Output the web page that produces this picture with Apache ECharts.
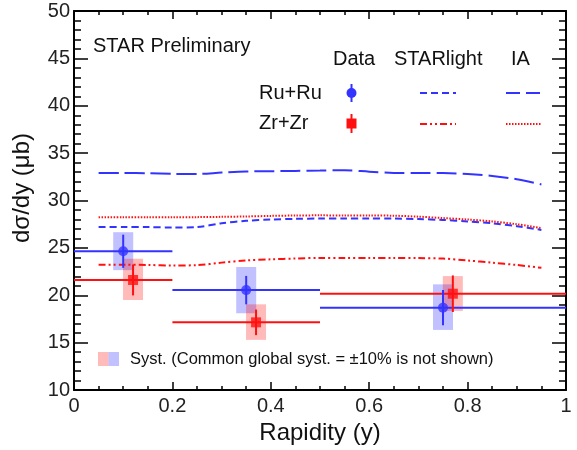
<!DOCTYPE html>
<html>
<head>
<meta charset="utf-8">
<script src="https://cdn.jsdelivr.net/npm/echarts@6/dist/echarts.min.js"></script>
<style>html,body{margin:0;padding:0;background:#fff;}#c{width:577px;height:450px;}</style>
</head>
<body>
<div id="c"></div>
<script>
// ---- Data ----
const binLo = [0.0, 0.2, 0.5];
const binHi = [0.2, 0.5, 1.0];

const ruX = [0.10, 0.35, 0.75];
const ruY = [24.65, 20.55, 18.70];
const ruStat = [1.75, 1.50, 1.86];
const ruSystLow = [22.66, 18.10, 16.35];
const ruSystHigh = [26.66, 23.00, 21.16];

const zrX = [0.12, 0.37, 0.77];
const zrY = [21.62, 17.15, 20.17];
const zrStat = [1.63, 1.35, 1.93];
const zrSystLow = [19.50, 15.30, 18.35];
const zrSystHigh = [23.86, 19.05, 22.03];

const curveX = [0.05,0.10,0.15,0.20,0.25,0.30,0.35,0.40,0.45,0.50,0.55,0.60,0.65,0.70,0.75,0.80,0.85,0.90,0.95];
const iaRu = [32.9,32.9,32.88,32.82,32.8,32.95,33.07,33.1,33.13,33.16,33.2,33.05,32.92,32.9,32.9,32.8,32.6,32.25,31.7];
const slRu = [27.2,27.2,27.2,27.15,27.2,27.6,27.86,28.0,28.07,28.1,28.1,28.1,28.1,28.05,27.95,27.8,27.6,27.3,26.9];
const iaZr = [28.24,28.24,28.24,28.24,28.25,28.28,28.32,28.38,28.42,28.44,28.42,28.42,28.4,28.3,28.15,28.0,27.8,27.5,27.1];
const slZr = [23.23,23.23,23.2,23.15,23.18,23.45,23.68,23.8,23.88,23.95,23.95,23.95,23.95,23.93,23.88,23.68,23.44,23.2,22.9];

const xTicks = {min: 0, max: 1, step: 0.2};
const yTicks = {min: 10, max: 50, step: 5};

// ---- Styles ----
const BLUE = '#3333ff';
const RED = '#ff1010';
const BLUE_FILL = 'rgba(51,51,255,0.30)';
const RED_FILL = 'rgba(255,0,0,0.27)';
const FONT = '"Liberation Sans", Arial, sans-serif';

const zip = (xs, ys) => xs.map((x, i) => [x, ys[i]]);

function hBars(y) { return binLo.map((lo, i) => [lo, binHi[i], y[i]]); }
function vBars(x, lo, hi) { return x.map((v, i) => [v, lo[i], hi[i]]); }

function hRender(color) {
  return function (params, api) {
    const a = api.coord([api.value(0), api.value(2)]);
    const b = api.coord([api.value(1), api.value(2)]);
    return {type: 'line', shape: {x1: a[0], y1: a[1], x2: b[0], y2: b[1]},
      style: {stroke: color, lineWidth: 2}};
  };
}
function vRender(color) {
  return function (params, api) {
    const a = api.coord([api.value(0), api.value(1)]);
    const b = api.coord([api.value(0), api.value(2)]);
    return {type: 'line', shape: {x1: a[0], y1: a[1], x2: b[0], y2: b[1]},
      style: {stroke: color, lineWidth: 2}};
  };
}
function boxRender(fill) {
  return function (params, api) {
    const a = api.coord([api.value(0), api.value(2)]);
    const b = api.coord([api.value(0), api.value(1)]);
    const hw = 10;
    return {type: 'rect', shape: {x: a[0] - hw, y: a[1], width: 2 * hw, height: b[1] - a[1]},
      style: {fill: fill}};
  };
}

const axisBlack = {color: '#000', width: 2};
const tickStyle = {color: '#000', width: 1.5};

function xAxisDef(pos, showLabel) {
  return {
    type: 'value', position: pos, min: xTicks.min, max: xTicks.max, interval: xTicks.step,
    axisLine: {show: true, onZero: false, lineStyle: axisBlack},
    axisTick: {show: true, inside: true, length: 8, lineStyle: tickStyle},
    minorTick: {show: true, splitNumber: 4, length: 4, lineStyle: tickStyle},
    axisLabel: {show: showLabel, fontSize: 20, color: '#222', margin: 6, fontFamily: FONT},
    splitLine: {show: false}, minorSplitLine: {show: false},
    name: showLabel ? 'Rapidity (y)' : '', nameLocation: 'middle', nameGap: 23,
    nameTextStyle: {fontSize: 24, color: '#111', fontFamily: FONT}
  };
}
function yAxisDef(pos, showLabel) {
  return {
    type: 'value', position: pos, min: yTicks.min, max: yTicks.max, interval: yTicks.step,
    axisLine: {show: true, onZero: false, lineStyle: axisBlack},
    axisTick: {show: true, inside: true, length: 14, lineStyle: tickStyle},
    minorTick: {show: true, splitNumber: 5, length: 7, lineStyle: tickStyle},
    axisLabel: {show: showLabel, fontSize: 20, color: '#222', margin: 4, fontFamily: FONT},
    splitLine: {show: false}, minorSplitLine: {show: false}
  };
}

function curve(data, color, dash) {
  return {type: 'line', xAxisIndex: 0, yAxisIndex: 0, data: zip(curveX, data),
    showSymbol: false, smooth: 0.3, z: 2, silent: true,
    lineStyle: {color: color, width: 2, type: dash}};
}

const chart = echarts.init(document.getElementById('c'), null, {renderer: 'canvas'});
const option = {
  animation: false,
  backgroundColor: '#fff',
  textStyle: {fontFamily: FONT},
  grid: {left: 74, right: 11, top: 11, bottom: 59, containLabel: false},
  xAxis: [xAxisDef('bottom', true), xAxisDef('top', false)],
  yAxis: [yAxisDef('left', true), yAxisDef('right', false)],
  series: [
    curve(iaRu, BLUE, [20, 6]),
    curve(slRu, BLUE, [7, 4]),
    curve(iaZr, RED, [1.5, 1.5]),
    curve(slZr, RED, [7, 3, 2, 3, 2, 3]),
    {type: 'custom', renderItem: boxRender(BLUE_FILL), data: vBars(ruX, ruSystLow, ruSystHigh), z: 1, silent: true},
    {type: 'custom', renderItem: boxRender(RED_FILL), data: vBars(zrX, zrSystLow, zrSystHigh), z: 1, silent: true},
    {type: 'custom', renderItem: hRender(BLUE), data: hBars(ruY), z: 3, silent: true},
    {type: 'custom', renderItem: hRender(RED), data: hBars(zrY), z: 3, silent: true},
    {type: 'custom', renderItem: vRender(BLUE),
      data: vBars(ruX, ruY.map((v, i) => v - ruStat[i]), ruY.map((v, i) => v + ruStat[i])), z: 3, silent: true},
    {type: 'custom', renderItem: vRender(RED),
      data: vBars(zrX, zrY.map((v, i) => v - zrStat[i]), zrY.map((v, i) => v + zrStat[i])), z: 3, silent: true},
    {type: 'scatter', data: zip(ruX, ruY), symbol: 'circle', symbolSize: 10, itemStyle: {color: BLUE}, z: 4, silent: true},
    {type: 'scatter', data: zip(zrX, zrY), symbol: 'rect', symbolSize: 10, itemStyle: {color: RED}, z: 4, silent: true}
  ],
  graphic: [
    {type: 'text', x: 22, y: 188, rotation: Math.PI / 2,
      style: {text: 'dσ/dy (μb)', font: '24px ' + FONT, fill: '#111', textAlign: 'center', textVerticalAlign: 'middle'}},
    {type: 'text', x: 93, y: 46, style: {text: 'STAR Preliminary', font: '20px ' + FONT, fill: '#111', textVerticalAlign: 'middle'}},
    {type: 'text', x: 333, y: 59, style: {text: 'Data', font: '20px ' + FONT, fill: '#111', textVerticalAlign: 'middle'}},
    {type: 'text', x: 394, y: 59, style: {text: 'STARlight', font: '20px ' + FONT, fill: '#111', textVerticalAlign: 'middle'}},
    {type: 'text', x: 511, y: 59, style: {text: 'IA', font: '20px ' + FONT, fill: '#111', textVerticalAlign: 'middle'}},
    {type: 'text', x: 259, y: 93, style: {text: 'Ru+Ru', font: '20px ' + FONT, fill: '#111', textVerticalAlign: 'middle'}},
    {type: 'text', x: 259, y: 123, style: {text: 'Zr+Zr', font: '20px ' + FONT, fill: '#111', textVerticalAlign: 'middle'}},
    {type: 'line', shape: {x1: 351.5, y1: 84, x2: 351.5, y2: 102}, style: {stroke: BLUE, lineWidth: 2}},
    {type: 'circle', shape: {cx: 351.5, cy: 93, r: 5}, style: {fill: BLUE}},
    {type: 'line', shape: {x1: 351.5, y1: 114, x2: 351.5, y2: 133}, style: {stroke: RED, lineWidth: 2}},
    {type: 'rect', shape: {x: 346.5, y: 118.5, width: 10, height: 10}, style: {fill: RED}},
    {type: 'line', shape: {x1: 420, y1: 93, x2: 456, y2: 93}, style: {stroke: BLUE, lineWidth: 2, lineDash: [7, 4]}},
    {type: 'line', shape: {x1: 506, y1: 93, x2: 542, y2: 93}, style: {stroke: BLUE, lineWidth: 2, lineDash: [14, 6]}},
    {type: 'line', shape: {x1: 420, y1: 124, x2: 456, y2: 124}, style: {stroke: RED, lineWidth: 2, lineDash: [7, 3, 2, 3, 2, 3]}},
    {type: 'line', shape: {x1: 506, y1: 124, x2: 541, y2: 124}, style: {stroke: RED, lineWidth: 2, lineDash: [1.5, 1.5]}},
    {type: 'rect', shape: {x: 98, y: 352, width: 10.5, height: 14}, style: {fill: RED_FILL}},
    {type: 'rect', shape: {x: 108.5, y: 352, width: 10.5, height: 14}, style: {fill: BLUE_FILL}},
    {type: 'text', x: 130, y: 359, style: {text: 'Syst. (Common global syst. = ±10% is not shown)', font: '16.5px ' + FONT, fill: '#111', textVerticalAlign: 'middle'}}
  ]
};
chart.setOption(option);
</script>
</body>
</html>
